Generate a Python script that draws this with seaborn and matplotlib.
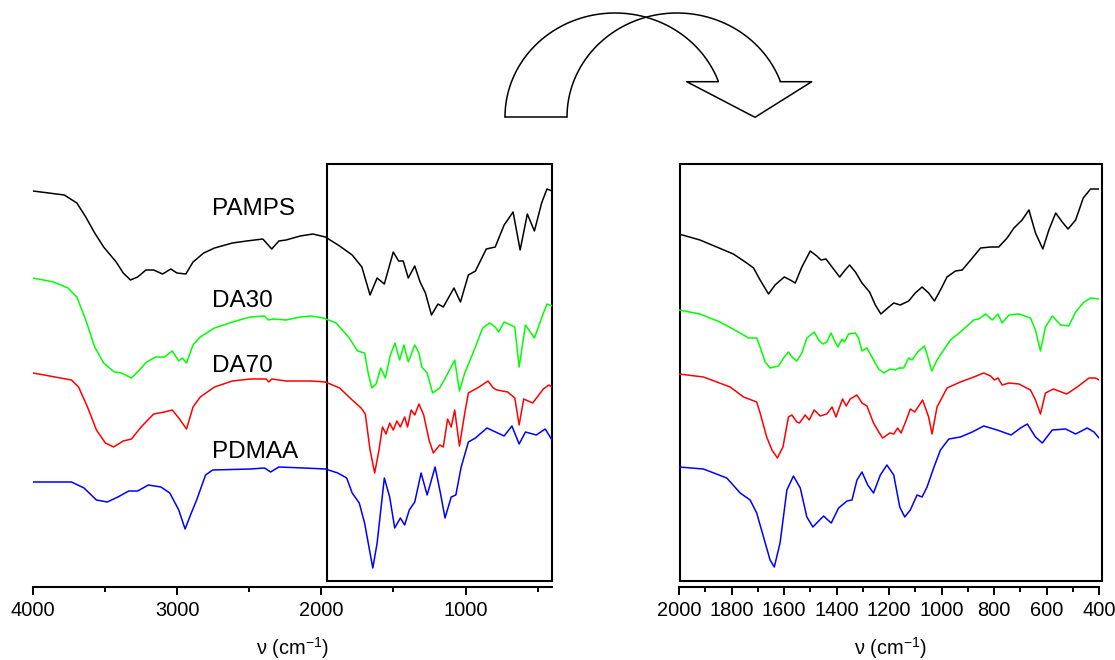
import numpy as np
import matplotlib
matplotlib.use("Agg")
import matplotlib.pyplot as plt
from matplotlib.patches import Rectangle
import seaborn as sns

# ---------------- full-range spectra (4000-400 cm-1), transmittance in a.u. ----------------
pamps_wn = [4000, 3783, 3696, 3634, 3572, 3510, 3423, 3374, 3324, 3274, 3217, 3163, 3101, 3044, 3002,
            2940, 2890, 2816, 2741, 2617, 2518, 2406, 2344, 2295, 2245, 2146, 2059, 1972, 1873, 1786,
            1719, 1662, 1613, 1563, 1501, 1464, 1432, 1397, 1352, 1315, 1278, 1236, 1191, 1154, 1080,
            1035, 980, 931, 856, 794, 732, 670, 621, 571, 522, 472, 435, 400]
pamps_t = [396, 392, 384, 370, 354, 340, 325, 314, 307, 310, 317, 317, 313, 318, 314,
           313, 325, 334, 339, 344, 346, 348, 338, 346, 347, 351, 353, 350, 341, 332,
           320, 292, 309, 303, 335, 326, 326, 309, 321, 305, 294, 272, 283, 280, 299,
           285, 312, 316, 338, 340, 362, 375, 337, 373, 356, 384, 398, 396]

da30_wn = [4000, 3857, 3758, 3696, 3634, 3572, 3510, 3436, 3386, 3317, 3262, 3212, 3150, 3088, 3034,
           2989, 2964, 2935, 2890, 2840, 2741, 2617, 2493, 2394, 2369, 2332, 2245, 2146, 2072, 1985,
           1898, 1811, 1749, 1700, 1675, 1650, 1620, 1588, 1556, 1521, 1489, 1457, 1427, 1397, 1352,
           1323, 1303, 1266, 1228, 1179, 1129, 1075, 1042, 1005, 931, 881, 832, 794, 770, 732,
           658, 628, 584, 522, 472, 435, 400]
da30_t = [309, 305, 299, 290, 267, 240, 224, 215, 214, 209, 217, 225, 230, 230, 236,
          226, 229, 224, 242, 250, 259, 265, 270, 271, 267, 268, 267, 270, 271, 269,
          264, 250, 236, 234, 214, 199, 203, 219, 209, 232, 244, 227, 242, 225, 242,
          234, 220, 214, 194, 199, 212, 227, 196, 214, 240, 259, 264, 260, 255, 265,
          260, 220, 262, 249, 269, 283, 281]

da70_wn = [4000, 3733, 3684, 3622, 3560, 3498, 3441, 3374, 3317, 3250, 3163, 3088, 3034, 2989, 2935,
           2890, 2840, 2741, 2617, 2493, 2382, 2364, 2344, 2245, 2072, 1972, 1873, 1786, 1724, 1695,
           1662, 1630, 1600, 1576, 1551, 1526, 1501, 1476, 1452, 1422, 1402, 1377, 1352, 1323, 1290,
           1253, 1223, 1179, 1154, 1124, 1099, 1075, 1042, 1005, 980, 906, 844, 807, 782, 708,
           658, 628, 596, 534, 460, 422, 400]
da70_t = [214, 207, 200, 180, 157, 144, 140, 146, 148, 160, 173, 175, 177, 169, 158,
          180, 190, 200, 206, 208, 208, 205, 208, 206, 206, 205, 199, 187, 179, 173,
          137, 114, 137, 160, 153, 164, 157, 166, 160, 170, 160, 177, 172, 183, 172,
          147, 134, 142, 140, 168, 160, 177, 141, 174, 194, 200, 206, 199, 197, 195,
          189, 162, 188, 184, 198, 202, 200]

pdmaa_wn = [4000, 3733, 3646, 3560, 3485, 3411, 3336, 3274, 3200, 3113, 3051, 2989, 2945, 2902, 2865,
            2803, 2754, 2493, 2394, 2352, 2295, 2121, 1972, 1886, 1824, 1786, 1737, 1700, 1662, 1643,
            1613, 1563, 1526, 1491, 1452, 1422, 1390, 1352, 1308, 1266, 1211, 1174, 1142, 1099, 1067,
            1030, 980, 931, 851, 732, 678, 628, 584, 509, 447, 400]
pdmaa_t = [105, 105, 99, 87, 85, 90, 96, 96, 102, 100, 94, 77, 58, 74, 87,
           112, 117, 118, 119, 115, 120, 119, 118, 114, 109, 94, 84, 64, 34, 19,
           44, 109, 90, 59, 69, 62, 77, 85, 114, 92, 120, 94, 69, 90, 92,
           120, 145, 149, 159, 151, 161, 143, 155, 152, 158, 147]

# ---------------- fingerprint region (2000-400 cm-1), expanded ----------------
pamps_z_wn = [2000, 1920, 1793, 1742, 1716, 1691, 1659, 1634, 1599, 1576, 1557, 1532, 1500, 1475, 1459,
              1440, 1417, 1388, 1367, 1350, 1328, 1303, 1274, 1252, 1231, 1205, 1182, 1157, 1125, 1100,
              1074, 1049, 1027, 1004, 979, 947, 921, 889, 851, 813, 782, 750, 724, 693, 667,
              642, 614, 591, 565, 540, 518, 489, 460, 432, 400]
pamps_z_t = [353, 347, 333, 324, 319, 307, 293, 302, 310, 307, 304, 320, 336, 331, 327,
             328, 320, 310, 317, 322, 315, 304, 295, 282, 273, 279, 284, 282, 286, 294,
             300, 294, 286, 297, 310, 316, 317, 327, 339, 340, 340, 349, 359, 367, 377,
             354, 338, 357, 374, 365, 358, 367, 389, 398, 398]

da30_z_wn = [2000, 1920, 1844, 1767, 1735, 1704, 1691, 1672, 1653, 1621, 1602, 1583, 1566, 1551, 1532,
             1513, 1485, 1468, 1452, 1437, 1421, 1409, 1395, 1379, 1370, 1354, 1328, 1316, 1303, 1284,
             1259, 1239, 1220, 1195, 1176, 1163, 1144, 1125, 1112, 1091, 1065, 1051, 1037, 1017, 966,
             928, 877, 858, 832, 807, 785, 769, 743, 705, 661, 642, 623, 604, 578, 546,
             515, 489, 457, 432, 400]
da30_z_t = [277, 273, 265, 254, 249, 249, 240, 225, 219, 221, 229, 235, 229, 226, 234,
            249, 255, 247, 243, 245, 254, 247, 240, 248, 245, 253, 254, 249, 236, 239,
            227, 218, 214, 218, 217, 219, 219, 229, 227, 235, 241, 229, 216, 227, 247,
            255, 267, 268, 273, 267, 273, 264, 272, 273, 269, 257, 236, 260, 271, 262,
            261, 275, 285, 289, 288]

da70_z_wn = [2000, 1907, 1805, 1754, 1704, 1691, 1666, 1646, 1625, 1604, 1583, 1570, 1551, 1541, 1519,
             1504, 1485, 1462, 1437, 1417, 1402, 1377, 1363, 1348, 1322, 1303, 1284, 1259, 1239, 1224,
             1197, 1182, 1167, 1154, 1134, 1119, 1102, 1072, 1049, 1036, 1017, 979, 928, 877, 839,
             813, 798, 785, 769, 743, 705, 661, 642, 623, 604, 574, 523, 483, 438, 413, 400]
da70_z_t = [213, 210, 200, 190, 185, 174, 150, 137, 129, 140, 170, 172, 165, 164, 172,
            167, 177, 171, 173, 180, 170, 188, 181, 188, 192, 184, 181, 164, 155, 149,
            154, 153, 159, 154, 167, 178, 175, 187, 170, 153, 180, 199, 205, 210, 214,
            211, 207, 209, 202, 204, 203, 197, 187, 173, 194, 198, 193, 200, 209, 209, 207]

pdmaa_z_wn = [2000, 1907, 1818, 1767, 1729, 1704, 1678, 1653, 1637, 1615, 1589, 1564, 1538, 1513, 1490,
              1468, 1449, 1433, 1420, 1392, 1360, 1341, 1322, 1303, 1281, 1259, 1233, 1208, 1182, 1159,
              1140, 1119, 1093, 1074, 1055, 1030, 1004, 972, 928, 883, 839, 788, 735, 699, 673,
              642, 616, 578, 527, 489, 445, 419, 400]
pdmaa_z_t = [120, 118, 109, 94, 87, 74, 50, 27, 20, 44, 97, 111, 99, 70, 60,
             66, 71, 67, 64, 79, 86, 87, 107, 115, 102, 94, 112, 122, 112, 80,
             70, 77, 92, 90, 100, 119, 137, 148, 150, 155, 161, 157, 152, 159, 163,
             150, 144, 157, 158, 153, 159, 155, 149]

sample_names = ["PAMPS", "DA30", "DA70", "PDMAA"]
label_heights = [372, 280, 215, 129]
line_colors = ["#000000", "#00ff00", "#ff0000", "#0000ff"]

full_major = [4000, 3000, 2000, 1000]
full_minor = [3500, 2500, 1500, 500]
zoom_major = list(range(2000, 399, -200))
zoom_minor = list(range(1900, 400, -200))

# ---------------- styling ----------------
sns.set_style("white")
plt.rcParams["font.family"] = ["Liberation Sans", "DejaVu Sans"]
plt.rcParams["text.color"] = "black"
plt.rcParams["xtick.color"] = "black"
plt.rcParams["xtick.labelcolor"] = "black"

W, H = 1115, 660
fig = plt.figure(figsize=(W / 100, H / 100), dpi=100)


def place(x0, y_top, x1, y_bot):
    return [x0 / W, 1 - y_bot / H, (x1 - x0) / W, (y_bot - y_top) / H]


ax_full = fig.add_axes(place(33, 160, 552, 587))
ax_zoom = fig.add_axes(place(679, 160, 1099, 587))

full_sets = [(pamps_wn, pamps_t), (da30_wn, da30_t), (da70_wn, da70_t), (pdmaa_wn, pdmaa_t)]
zoom_sets = [(pamps_z_wn, pamps_z_t), (da30_z_wn, da30_z_t), (da70_z_wn, da70_z_t), (pdmaa_z_wn, pdmaa_z_t)]

for (wn, t), c in zip(full_sets, line_colors):
    sns.lineplot(x=wn, y=t, ax=ax_full, color=c, linewidth=1.1, estimator=None, sort=False,
                 solid_joinstyle="round")
for (wn, t), c in zip(zoom_sets, line_colors):
    sns.lineplot(x=wn, y=t, ax=ax_zoom, color=c, linewidth=1.1, estimator=None, sort=False,
                 solid_joinstyle="round")

for name, yh in zip(sample_names, label_heights):
    ax_full.text(2757, yh, name, fontsize=17.5, ha="left", va="baseline", color="black")

for ax in (ax_full, ax_zoom):
    ax.set_ylim(0, 427)
    ax.set_yticks([])
    ax.set_ylabel("")
    for side in ("top", "left", "right"):
        ax.spines[side].set_visible(False)
    ax.spines["bottom"].set_linewidth(1.5)
    ax.spines["bottom"].set_color("black")
    ax.tick_params(axis="x", which="major", direction="out", length=6, width=1.4,
                   color="black", labelcolor="black", pad=4, bottom=True)
    ax.tick_params(axis="x", which="minor", direction="out", length=3.5, width=1.4,
                   color="black", bottom=True)
    ax.set_facecolor("none")

ax_full.set_xlim(4000, 400)
ax_full.set_xticks(full_major)
ax_full.set_xticks(full_minor, minor=True)
ax_full.set_xticklabels([str(v) for v in full_major], fontsize=14.4)

ax_zoom.set_xlim(2000, 400)
ax_zoom.set_xticks(zoom_major)
ax_zoom.set_xticks(zoom_minor, minor=True)
ax_zoom.set_xticklabels([str(v) for v in zoom_major], fontsize=14.4,
                        family=["Liberation Sans Narrow", "Liberation Sans"])

# frame marking the expanded region on the full spectrum
ax_full.add_patch(Rectangle((1958, 6.3), 400 - 1958, 423 - 6.3, fill=False,
                            edgecolor="black", linewidth=1.5, clip_on=False))
# frame around the expanded spectrum
ax_zoom.add_patch(Rectangle((1996, 6.3), 390 - 1996, 423 - 6.3, fill=False,
                            edgecolor="black", linewidth=1.5, clip_on=False))

fig.text(292 / W, 1 - 648 / H, r"ν (cm$^{\mathregular{-1}}$)", fontsize=14.4,
         ha="center", va="center", color="black")
fig.text(890 / W, 1 - 648 / H, r"ν (cm$^{\mathregular{-1}}$)", fontsize=14.4,
         ha="center", va="center", color="black",
         family=["Liberation Sans Narrow", "Liberation Sans"])

# curved block arrow pointing from the full spectrum to the expanded view
ov = fig.add_axes([0, 0, 1, 1])
ov.set_xlim(0, W)
ov.set_ylim(H, 0)
ov.axis("off")
rx, ry, cy = 110, 104, 117
for cx in (615, 677):
    t_end = np.arccos(103.3 / rx)
    t = np.linspace(np.pi, t_end, 200)
    ov.plot(cx + rx * np.cos(t), cy - ry * np.sin(t), color="black", linewidth=1.1)
ov.plot([505, 567.3], [117.3, 117.3], color="black", linewidth=1.1)
ov.plot([718.3, 686.7, 755, 811.7, 780], [81.7, 81.7, 117.3, 81.7, 81.7],
        color="black", linewidth=1.1)

fig.savefig("out.png", dpi=100)
